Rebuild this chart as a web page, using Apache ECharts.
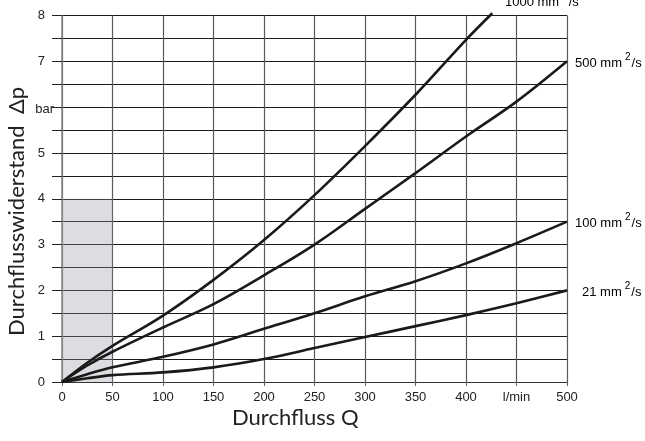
<!DOCTYPE html>
<html>
<head>
<meta charset="utf-8">
<script src="https://cdn.jsdelivr.net/npm/echarts@6/dist/echarts.min.js"></script>
<style>html,body{margin:0;padding:0;background:#fff;}#c{width:645px;height:441px;}</style>
</head>
<body>
<div id="c"></div>
<script>
// Flow Q (l/min)
var q = [0, 25, 50, 100, 150, 200, 250, 300, 350, 400, 450, 500];
var q1000 = [0, 25, 50, 100, 150, 200, 250, 300, 350, 400, 426];
// Pressure drop Δp (bar) per viscosity
var v21 = [0, 0.08, 0.15, 0.21, 0.32, 0.5, 0.74, 0.98, 1.22, 1.46, 1.72, 2.0];
var v100 = [0, 0.17, 0.32, 0.55, 0.82, 1.16, 1.5, 1.87, 2.2, 2.59, 3.03, 3.5];
var v500 = [0, 0.36, 0.66, 1.19, 1.7, 2.33, 3.0, 3.78, 4.56, 5.36, 6.12, 7.0];
var v1000 = [0, 0.42, 0.79, 1.45, 2.23, 3.1, 4.08, 5.15, 6.27, 7.47, 8.05];
var seriesNames = ['21', '100', '500', '1000'];
var xTickLabels = {450: 'l/min'};
var yTickLabels = {6: 'bar'};
var shadedArea = {x0: 0, x1: 50, y0: 0, y1: 4};

function pairs(xs, ys) { return xs.map(function (x, i) { return [x, ys[i]]; }); }

var chart = echarts.init(document.getElementById('c'), null, {renderer: 'canvas'});
var lineStyle = {color: '#1a1a1a', width: 2.6};
function curve(name, data) {
  return {name: name, type: 'line', data: data, smooth: 0.35, symbol: 'none',
    lineStyle: lineStyle, clip: false, z: 3};
}
var lblRich = {
  n: {fontFamily: 'Liberation Sans', fontSize: 13, color: '#222', lineHeight: 18, verticalAlign: 'bottom'},
  s: {fontFamily: 'Liberation Sans', fontSize: 10, color: '#222', lineHeight: 18, verticalAlign: 'top', padding: [0, 1, 0, 3]}
};
function lbl(txt, x, y) {
  return {type: 'text', left: x, top: y, z: 10,
    style: {text: '{n|' + txt + ' mm}{s|2}{n|/s}', rich: lblRich}};
}
chart.setOption({
  animation: false,
  backgroundColor: '#fff',
  grid: {left: 62, right: 78, top: 15.5, bottom: 59, containLabel: false},
  xAxis: {
    type: 'value', min: 0, max: 500, interval: 50,
    axisLine: {show: true, lineStyle: {color: '#333', width: 1}},
    axisTick: {show: true, length: 4, lineStyle: {color: '#666'}},
    axisLabel: {color: '#222', fontFamily: 'Liberation Sans', fontSize: 13, margin: 9,
      formatter: function (v) { return xTickLabels[v] !== undefined ? xTickLabels[v] : String(v); }},
    splitLine: {show: true, lineStyle: {color: '#5a5a5a', width: 1.2}}
  },
  yAxis: {
    type: 'value', min: 0, max: 8, interval: 0.5,
    axisLine: {show: true, lineStyle: {color: '#888', width: 1.5}},
    axisTick: {show: true, length: 10, inside: false,
      interval: function (i, v) { return Number(v) % 1 === 0; }, lineStyle: {color: '#222'}},
    axisLabel: {color: '#222', fontFamily: 'Liberation Sans', fontSize: 13, margin: 8,
      formatter: function (v) {
        if (v % 1 !== 0) return '';
        if (yTickLabels[v] !== undefined) return '{b|' + yTickLabels[v] + '}';
        return '{d|' + v + '}';
      },
      rich: {
        d: {fontFamily: 'Liberation Sans', fontSize: 13, color: '#222', padding: [0, 9, 0, 0]},
        b: {fontFamily: 'Liberation Sans', fontSize: 13, color: '#222', padding: [5, 0, 0, 0]}
      }},
    splitLine: {show: true, lineStyle: {color: '#1a1a1a', width: 1}}
  },
  series: [
    {type: 'line', data: [], z: 1, silent: true,
      markArea: {silent: true, itemStyle: {color: 'rgba(150,153,161,0.33)'},
        data: [[{coord: [shadedArea.x0, shadedArea.y0]}, {coord: [shadedArea.x1, shadedArea.y1]}]]}},
    curve(seriesNames[0], pairs(q, v21)),
    curve(seriesNames[1], pairs(q, v100)),
    curve(seriesNames[2], pairs(q, v500)),
    curve(seriesNames[3], pairs(q1000, v1000))
  ],
  graphic: [
    lbl('1000', 505, -9),
    lbl('500', 575, 52),
    lbl('100', 575, 212),
    lbl('21', 582, 281),
    {type: 'text', left: 232, top: 407, style: {text: 'Durchfluss Q', fontFamily: 'Lato', fontSize: 22, fill: '#222'}},
    {type: 'text', x: 6, y: 336, rotation: Math.PI / 2, z: 10,
      style: {text: 'Durchflusswiderstand  Δp', fontFamily: 'Lato', fontSize: 22, fill: '#222'}}
  ]
});
</script>
</body>
</html>
